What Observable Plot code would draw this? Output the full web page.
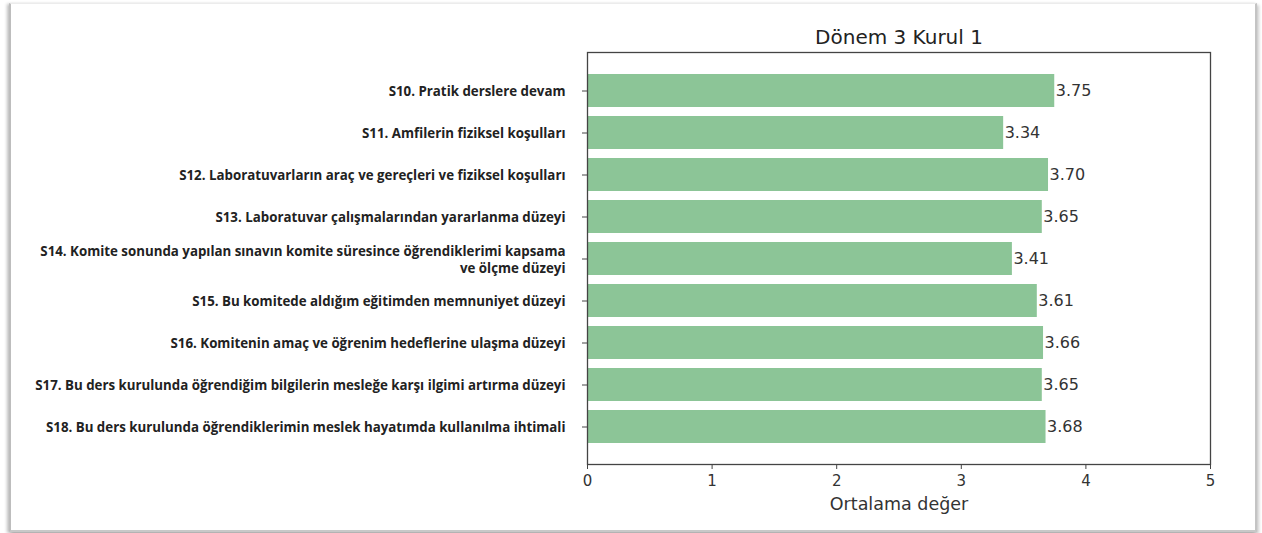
<!DOCTYPE html>
<html>
<head>
<meta charset="utf-8">
<script src="https://cdn.jsdelivr.net/npm/d3@7"></script>
<script src="https://cdn.jsdelivr.net/npm/@observablehq/plot@0.6"></script>
<style>
  html, body { margin: 0; padding: 0; background: #fff; }
  #wrap { position: relative; width: 1262px; height: 533px; overflow: hidden; }
  #frame { position: absolute; left: 9px; top: 3px; width: 1244px; height: 526px;
           background: #fff; border-left: 2px solid #bdbdbd; border-right: 2px solid #c4c4c4; border-bottom: 2px solid #c8c8c8; border-top: 1px solid #ececec;
           box-shadow: -2px 1px 3px rgba(0,0,0,0.25), 2px 2px 3px rgba(0,0,0,0.2); }
  #chart { position: absolute; left: 0; top: 0; }
  #chart .y-lab text { font-family: "Open Sans", sans-serif; font-weight: bold; }
</style>
</head>
<body>
<div id="wrap"><div id="frame"></div><div id="chart"></div></div>
<script>
const categories = [
  "S10. Pratik derslere devam",
  "S11. Amfilerin fiziksel koşulları",
  "S12. Laboratuvarların araç ve gereçleri ve fiziksel koşulları",
  "S13. Laboratuvar çalışmalarından yararlanma düzeyi",
  "S14. Komite sonunda yapılan sınavın komite süresince öğrendiklerimi kapsama\nve ölçme düzeyi",
  "S15. Bu komitede aldığım eğitimden memnuniyet düzeyi",
  "S16. Komitenin amaç ve öğrenim hedeflerine ulaşma düzeyi",
  "S17. Bu ders kurulunda öğrendiğim bilgilerin mesleğe karşı ilgimi artırma düzeyi",
  "S18. Bu ders kurulunda öğrendiklerimin meslek hayatımda kullanılma ihtimali"
];
const values = [3.75, 3.34, 3.70, 3.65, 3.41, 3.61, 3.66, 3.65, 3.68];
const xTicks = [0, 1, 2, 3, 4, 5];
const title = "Dönem 3 Kurul 1";
const xLabel = "Ortalama değer";

const data = categories.map((c, i) => ({cat: c, value: values[i]}));

const plot = Plot.plot({
  width: 1262,
  height: 533,
  marginLeft: 587,
  marginRight: 52,
  marginTop: 52,
  marginBottom: 69,
  style: {background: "transparent", fontFamily: "DejaVu Sans, sans-serif", color: "#333"},
  x: {domain: [0, 5], ticks: xTicks, label: null},
  y: {domain: categories, paddingInner: 0.22, paddingOuter: 0.47, label: null},
  marks: [
    Plot.barX(data, {x: "value", y: "cat", fill: "#8cc597"}),
    Plot.text(data, {x: "value", y: "cat", text: d => d.value.toFixed(2), textAnchor: "start", dx: 1, fontSize: 16, fill: "#333", fontFamily: "DejaVu Sans, sans-serif"}),
    Plot.frame({stroke: "#444", strokeWidth: 1.3}),
    Plot.axisX({ticks: xTicks, tickSize: 5, tickPadding: 6, fontSize: 15, stroke: "#444", fill: "#333", label: null, tickFormat: d => String(d)}),
    Plot.axisY({tickSize: 5, tickPadding: 17, fontSize: 13.3, fill: "#222", stroke: "#444", label: null, className: "y-lab", lineHeight: 1.25}),
    Plot.text([xLabel], {frameAnchor: "bottom", dy: 40, text: d => d, fontSize: 17.5, fill: "#333", lineAnchor: "middle", fontFamily: "DejaVu Sans, sans-serif"}),
    Plot.text([title], {frameAnchor: "top", dy: -15, text: d => d, fontSize: 20, fill: "#222", lineAnchor: "middle", fontFamily: "DejaVu Sans, sans-serif"})
  ]
});
document.getElementById("chart").appendChild(plot);
</script>
</body>
</html>
